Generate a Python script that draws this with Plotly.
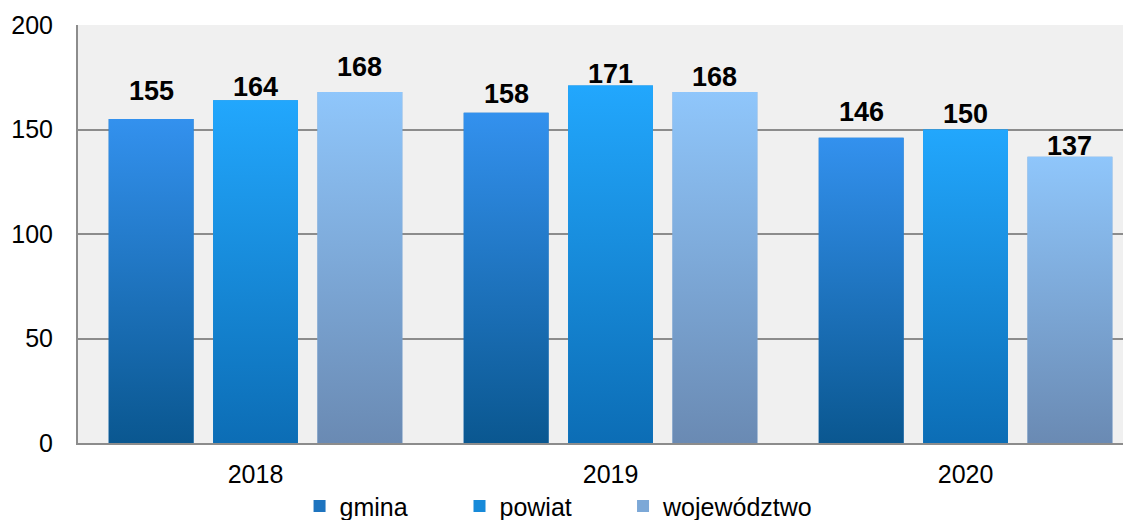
import plotly.graph_objects as go

# data
years = ["2018", "2019", "2020"]
series = ["gmina", "powiat", "województwo"]
gmina = [155, 158, 146]
powiat = [164, 171, 150]
wojewodztwo = [168, 168, 137]

# styling (kept apart from the data)
values = [gmina, powiat, wojewodztwo]
top_colors = ["#3391ee", "#22a7fd", "#8fc6fb"]
bottom_colors = ["#0a5790", "#0c6db5", "#6a8ab3"]
mid_colors = ["#1e74bf", "#178ad9", "#7ca8d7"]
shifts = [-0.294, 0.0, 0.294]
bar_w = 0.239
# vertical offset (px) of each value label above its bar, as placed in the original
label_lift = [[28, 19, 26], [13, 12, 16], [25, 15, 11]]
# one legend per series so each entry can sit where the original has it
legend_ids = ["legend", "legend2", "legend3"]
legend_x = [0.2104, 0.3623, 0.5176]

x_pos = list(range(len(years)))

fig = go.Figure()

for name, vals, col, dx, lg in zip(series, values, mid_colors, shifts, legend_ids):
    fig.add_trace(go.Bar(
        x=x_pos,
        y=vals,
        name=name,
        width=bar_w,
        offset=dx - bar_w / 2,
        marker=dict(color=col, line=dict(width=0)),
        legend=lg,
        hovertemplate="%{y}<extra>" + name + "</extra>",
    ))

# gradient fill on top of each bar (bars themselves can't take a gradient)
for vals, top, bot, dx in zip(values, top_colors, bottom_colors, shifts):
    for xi, v in zip(x_pos, vals):
        x0 = xi + dx - bar_w / 2
        x1 = xi + dx + bar_w / 2
        fig.add_trace(go.Scatter(
            x=[x0, x1, x1, x0, x0],
            y=[0, 0, v, v, 0],
            mode="lines",
            line=dict(width=0),
            fill="toself",
            fillgradient=dict(type="vertical", start=0, stop=v,
                              colorscale=[[0, bot], [1, top]]),
            showlegend=False,
            hoverinfo="skip",
        ))

for vals, lifts, dx in zip(values, label_lift, shifts):
    for xi, v, lift in zip(x_pos, vals, lifts):
        fig.add_annotation(
            x=xi + dx, y=v, text=str(v), showarrow=False,
            yanchor="middle", yshift=lift,
            font=dict(family="Liberation Sans, Arial", size=27, color="black", weight="bold"),
        )

legend_style = dict(
    orientation="h",
    xanchor="left",
    yref="container", y=0.027, yanchor="middle",
    font=dict(size=25),
    bgcolor="rgba(0,0,0,0)",
    itemclick=False,
)

# the page body has an 8px margin, so the figure is sized to fit inside it
fig.update_layout(
    width=1123,
    height=512,
    barmode="overlay",
    paper_bgcolor="white",
    plot_bgcolor="#f0f0f0",
    margin=dict(l=70, r=0, t=17, b=77, autoexpand=False),
    font=dict(family="Liberation Sans, Arial", size=25, color="black"),
    showlegend=True,
    legend=dict(legend_style, x=legend_x[0]),
    legend2=dict(legend_style, x=legend_x[1]),
    legend3=dict(legend_style, x=legend_x[2]),
    xaxis=dict(
        range=[-0.5, 2.466],
        tickvals=x_pos,
        ticktext=years,
        showgrid=False,
        zeroline=False,
        showline=True,
        linecolor="#8c8c8c",
        linewidth=2,
        ticks="",
        ticklabelstandoff=8,
        automargin=False,
    ),
    yaxis=dict(
        range=[0, 200],
        tickvals=[0, 50, 100, 150, 200],
        showgrid=True,
        gridcolor="#8c8c8c",
        gridwidth=1.5,
        zeroline=False,
        showline=True,
        linecolor="#8c8c8c",
        linewidth=2,
        ticks="",
        ticklabelstandoff=18,
        automargin=False,
    ),
)

fig.write_html("out.html")
